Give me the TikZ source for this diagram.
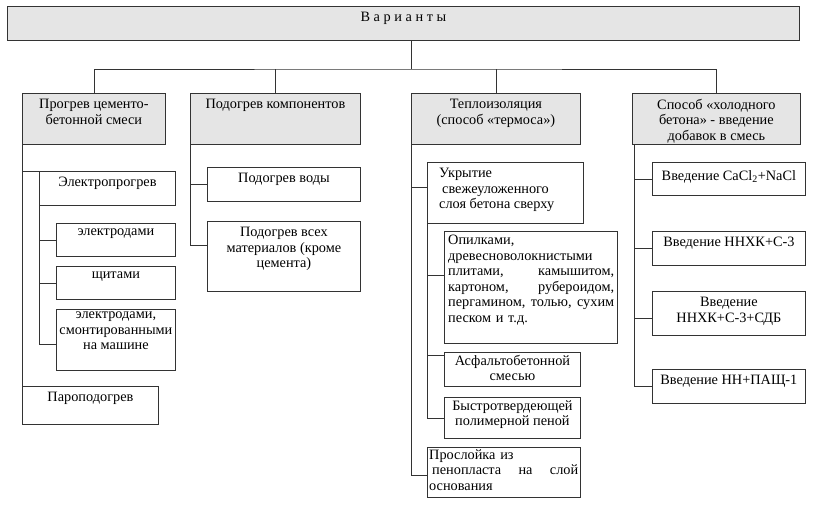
\documentclass[tikz,border=0pt]{standalone}
\usepackage{fontspec}
\setmainfont{Liberation Serif}
\begin{document}
\begin{tikzpicture}[
x=1pt,y=-1pt,
hd/.style={%
draw=black!80,
fill=black!10,
line width=0.8pt,
anchor=north west,
inner sep=0pt
},
bx/.style={%
draw=black!80,
line width=0.8pt,
anchor=north west,
inner sep=0pt
},
txt/.style={align=center,anchor=north,inner sep=6pt,font=\fontsize{14.3}{15.5}\selectfont},
ltxt/.style={align=left,anchor=north west,inner sep=3pt,font=\fontsize{14.3}{15.5}\selectfont},
ln/.style={draw=black!80,line width=0.8pt}
]
\useasboundingbox(0,0)rectangle(829,507);
%% Top
\node[hd,minimum width=792,minimum height=34,label={[txt]north:В а р и а н т ы}](var)at(7,6){};
\coordinate(bus)at(411,69);
%% Variants
\node[hd,minimum width=143,minimum height=51,label={[txt]north:{Прогрев цементо-\\бетонной смеси}}](prog)at(22,93){};
\node[hd,minimum width=170,minimum height=51,label={[txt]north:Подогрев компонентов}](comp)at(190,93){};
\node[hd,minimum width=169,minimum height=51,label={[txt]north:{Теплоизоляция\\(способ «термоса»)}}](term)at(411,93){};
\node[hd,minimum width=168,minimum height=51,label={[txt]north:{Способ «холодного\\бетона» - введение\\добавок в смесь}}](cold)at(632,93){};
\draw[ln](var.south-|bus)--(bus);
\draw[ln](prog.north)|-(bus)-|(cold.north);
\draw[ln](comp.north)--(comp.north|-bus);
\draw[ln](term.north)--(term.north|-bus);
%% Heating of the mix
\node[bx,minimum width=136,minimum height=34,label={[txt]north:Электропрогрев}](elpr)at(39,171){};
\node[bx,minimum width=119,minimum height=33,label={[txt]north:электродами}](el)at(56,223){};
\node[bx,minimum width=119,minimum height=33,label={[txt]north:щитами}](shch)at(56,266){};
\node[bx,minimum width=119,minimum height=61,label={[txt,inner sep=3pt]north:{электродами,\\смонтированными\\на машине}}](mash)at(56,309){};
\node[bx,minimum width=136,minimum height=38,label={[txt]north:Пароподогрев}](par)at(22,386){};
\draw[ln](prog.south west)--(par.north west);
\draw[ln](prog.south west|-elpr.north west)--(elpr.north west);
\draw[ln]([yshift=-4pt]mash.west)-|(elpr.south west);
\draw[ln](elpr.south west|-el.west)--(el.west);
\draw[ln](elpr.south west|-shch.west)--(shch.west);
%% Components
\node[bx,minimum width=153,minimum height=34,label={[txt]north:Подогрев воды}](water)at(207,167){};
\node[bx,minimum width=153,minimum height=70,label={[txt]north:{Подогрев всех\\материалов (кроме\\цемента)}}](all)at(207,221){};
\draw[ln]([yshift=11pt]all.west)-|(comp.south west);
\draw[ln](comp.south west|-water.west)--(water.west);
%% Thermos
\node[bx,minimum width=156,minimum height=61,label={[ltxt,xshift=6pt,inner sep=6pt]north west:{Укрытие\\\hspace*{3pt}свежеуложенного\\слоя бетона сверху}}](ukr)at(427,162){};
\node[bx,minimum width=173,minimum height=112,label={[ltxt,text width=166,inner sep=4pt]north west:{Опилками,\\древесноволокнистыми\\плитами,\hfill камышитом,\\картоном,\hfill рубероидом,\\пергамином,\hfill толью,\hfill сухим\\песком и т.д.}}](opil)at(444,231){};
\node[bx,minimum width=136,minimum height=34,label={[txt,inner sep=3pt]north:{Асфальтобетонной\\смесью}}](asf)at(444,352){};
\node[bx,minimum width=136,minimum height=41,label={[txt,inner sep=3pt]north:{Быстротвердеющей\\полимерной пеной}}](pen)at(444,397){};
\node[bx,minimum width=153,minimum height=50,label={[ltxt,text width=149,inner sep=2pt]north west:{Прослойка из\\\hspace*{3pt}пенопласта\hfill на\hfill слой\\основания}}](prosl)at(427,447){};
\draw[ln]([yshift=-3pt]prosl.west)-|(term.south west);
\draw[ln]([yshift=6pt]ukr.west)-|(term.south west);
\draw[ln](pen.west)-|(ukr.south west);
\draw[ln]([yshift=12pt]opil.west)-|(ukr.south west);
\draw[ln]([yshift=14pt]asf.west)-|(ukr.south west);
%% Cold concrete
\node[bx,minimum width=153,minimum height=33,label={[txt,inner sep=8pt]north:Введение CaCl\textsubscript{2}+NaCl}](cacl)at(652,162){};
\node[bx,minimum width=153,minimum height=34,label={[txt]north:Введение ННХК+С-3}](nnhk)at(652,231){};
\node[bx,minimum width=153,minimum height=44,label={[txt]north:{Введение\\ННХК+С-3+СДБ}}](sdb)at(652,291){};
\node[bx,minimum width=153,minimum height=34,label={[txt]north:Введение НН+ПАЩ-1}](pasch)at(652,369){};
\draw[ln](pasch.west)-|([xshift=2pt]cold.south west);
\draw[ln](cacl.west)-|([xshift=2pt]cold.south west);
\draw[ln](nnhk.west)-|([xshift=2pt]cold.south west);
\draw[ln]([yshift=-5pt]sdb.west)-|([xshift=2pt]cold.south west);
\end{tikzpicture}
\end{document}
